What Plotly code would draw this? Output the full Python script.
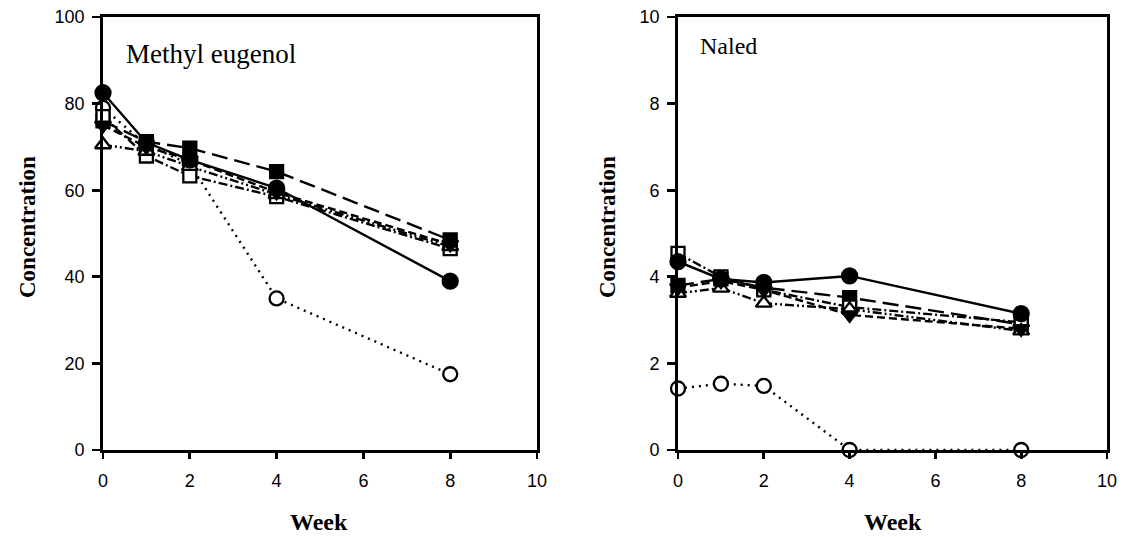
import plotly.graph_objects as go

weeks = [0, 1, 2, 4, 8]

# Methyl eugenol panel
me_filled_circle = [82.5, 71.0, 67.0, 60.5, 39.0]
me_open_circle = [79.0, 70.5, 66.0, 35.0, 17.5]
me_filled_square = [76.0, 71.2, 69.7, 64.3, 48.5]
me_open_square = [77.0, 67.9, 63.3, 58.5, 46.5]
me_open_triangle = [70.5, 69.0, 65.5, 59.0, 47.0]
me_down_triangle = [75.0, 70.0, 67.0, 59.5, 47.5]

# Naled panel
na_filled_circle = [4.35, 3.95, 3.87, 4.02, 3.15]
na_open_circle = [1.42, 1.53, 1.48, 0.0, 0.0]
na_filled_square = [3.80, 3.95, 3.75, 3.52, 2.90]
na_open_square = [4.54, 4.00, 3.70, 3.30, 2.95]
na_open_triangle = [3.62, 3.74, 3.39, 3.25, 2.75]
na_down_triangle = [3.75, 3.90, 3.70, 3.12, 2.80]

x_ticks = [0, 2, 4, 6, 8, 10]

styles = [
    # (symbol, fill, dash, size)
    ("circle", "white", "2px,5px", 14),
    ("square", "black", "16px,7px", 13),
    ("square", "white", "9px,3px,2px,3px", 13),
    ("triangle-up", "white", "9px,3px,2px,3px,2px,3px", 14),
    ("triangle-down", "black", "8px,4px", 14),
    ("circle", "black", "solid", 15),
]

me_series = [me_open_circle, me_filled_square, me_open_square, me_open_triangle,
             me_down_triangle, me_filled_circle]
na_series = [na_open_circle, na_filled_square, na_open_square, na_open_triangle,
             na_down_triangle, na_filled_circle]

fig = go.Figure()

for series, xa, ya in [(me_series, "x", "y"), (na_series, "x2", "y2")]:
    for vals, (sym, fill, dash, size) in zip(series, styles):
        fig.add_trace(go.Scatter(
            x=weeks, y=vals, xaxis=xa, yaxis=ya, mode="lines+markers",
            line=dict(color="black", width=2.4, dash=dash),
            marker=dict(symbol=sym, size=size, color=fill,
                        line=dict(color="black", width=2.3)),
            showlegend=False, cliponaxis=False,
        ))

W, H = 1128, 537
def px_x(p):
    return p / W
def px_y(p):
    return 1 - p / H

axis_common = dict(
    showline=True, linecolor="black", linewidth=2.8, mirror=True,
    ticks="outside", tickwidth=2.8, tickcolor="black",
    showgrid=False, zeroline=False, automargin=False,
    tickfont=dict(family="Liberation Sans, Arial", size=18, color="black"),
)
xa_common = dict(ticklen=6, ticklabelstandoff=7, **axis_common)
ya_common = dict(ticklen=8, ticklabelstandoff=4, **axis_common)

fig.update_layout(
    width=W, height=H,
    margin=dict(l=0, r=0, t=0, b=0, autoexpand=False),
    paper_bgcolor="white", plot_bgcolor="white",
    xaxis=dict(domain=[px_x(103), px_x(537)], range=[0, 10], tickvals=x_ticks,
               anchor="y", **xa_common),
    yaxis=dict(domain=[px_y(450), px_y(17)], range=[0, 100],
               tickvals=[0, 20, 40, 60, 80, 100], anchor="x", **ya_common),
    xaxis2=dict(domain=[px_x(678), px_x(1107)], range=[0, 10], tickvals=x_ticks,
                anchor="y2", **xa_common),
    yaxis2=dict(domain=[px_y(450), px_y(17)], range=[0, 10],
                tickvals=[0, 2, 4, 6, 8, 10], anchor="x2", **ya_common),
)

title_font = dict(family="Liberation Serif, Times New Roman", size=24, color="black")
vtitle_font = dict(family="Liberation Serif, Times New Roman", size=23, color="black")

annots = [
    dict(text="<b>Week</b>", x=px_x(319), y=px_y(522), font=title_font),
    dict(text="<b>Week</b>", x=px_x(893), y=px_y(522), font=title_font),
    dict(text="<b>Concentration</b>", x=px_x(27), y=px_y(227), font=vtitle_font, textangle=-90),
    dict(text="<b>Concentration</b>", x=px_x(607), y=px_y(227), font=vtitle_font, textangle=-90),
    dict(text="Methyl eugenol", x=px_x(124), y=px_y(54),
         font=dict(family="Liberation Serif, Times New Roman", size=27, color="black"),
         xanchor="left"),
    dict(text="Naled", x=px_x(698), y=px_y(46),
         font=dict(family="Liberation Serif, Times New Roman", size=24, color="black"),
         xanchor="left"),
]
for a in annots:
    a.setdefault("xanchor", "center")
    a.setdefault("yanchor", "middle")
    fig.add_annotation(xref="paper", yref="paper", showarrow=False, **a)

fig.write_html("out.html", config={"displayModeBar": False, "staticPlot": True},
               post_script="document.body.style.margin='0px';document.body.style.overflow='hidden';")
